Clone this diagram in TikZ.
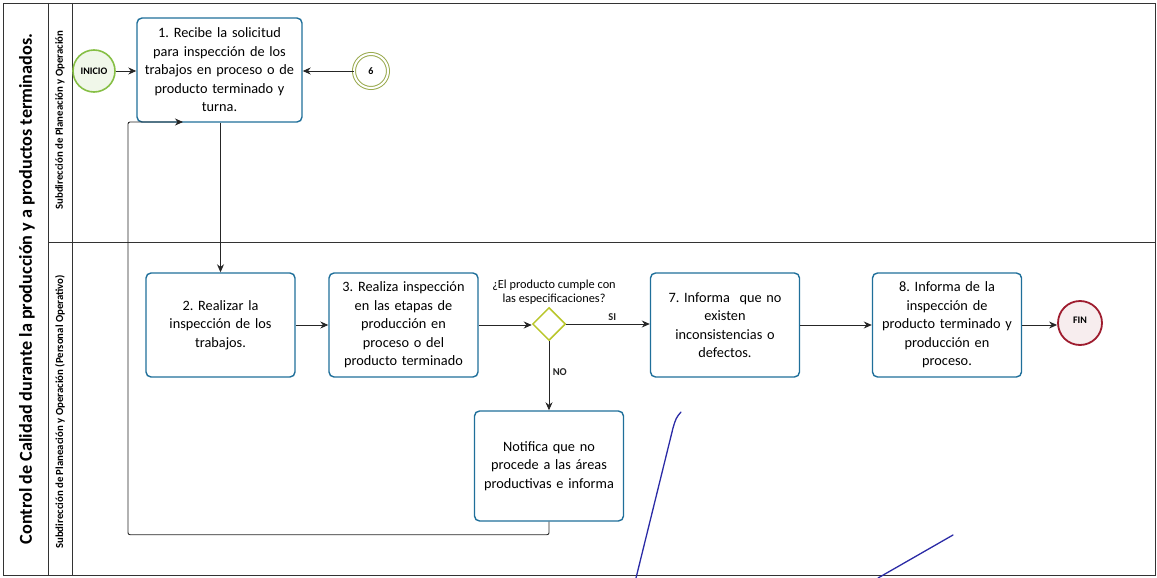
\documentclass[tikz,border=0pt]{standalone}
\usepackage{fontspec}
\setmainfont{Carlito}
\usepackage{xcolor}
\usetikzlibrary{arrows.meta,positioning,shapes.geometric}
\definecolor{taskblue}{HTML}{1F6F9A}
\definecolor{startgreen}{HTML}{86BF45}
\definecolor{midolive}{HTML}{9AAA4F}
\definecolor{endred}{HTML}{9E1C2E}
\definecolor{gwyellow}{HTML}{B9C62A}
\definecolor{penblue}{HTML}{2B2BA6}
\frenchspacing

\begin{document}
\begin{tikzpicture}[x=1pt,y=-1pt,
  task/.style={draw=taskblue,line width=1.4pt,rounded corners=5pt,fill=white,
    minimum width=149pt,minimum height=104pt,text width=145pt,align=center,
    inner sep=2pt,font=\fontsize{14.3}{18.5}\selectfont},
  event/.style={circle,inner sep=0pt,minimum size=42pt,
    font=\bfseries\fontsize{10}{11}\selectfont},
  flow/.style={-{Stealth[length=8pt,width=7pt]},line width=0.9pt,black!85},
  lanetxt/.style={rotate=90,font=\bfseries\fontsize{10.8}{12}\selectfont},
  tag/.style={font=\bfseries\fontsize{10.5}{11}\selectfont}]
  \useasboundingbox (0,0) rectangle (1157,578);
  % pool and lanes
  \draw[line width=0.8pt,black!80] (3,3) rectangle (1155,575);
  \draw[line width=0.8pt,black!80] (48,3) -- (48,575) (72,3) -- (72,575)
    (48,242) -- (1155,242);
  \node[rotate=90,font=\bfseries\fontsize{18.2}{20}\selectfont] (pool) at (27,289)
    {Control de Calidad durante la producción y a productos terminados.};
  \node[lanetxt] (lane1) at (60,120) {Subdirección de Planeación y Operación};
  \node[lanetxt] (lane2) at (60,412)
    {Subdirección de Planeación y Operación (Personal Operativo)};

  % events
  \node[event,draw=startgreen,line width=1.6pt,fill=startgreen!12] (inicio) at (94,71) {INICIO};
  \node[event,draw=midolive,line width=1pt,double=white,double distance=2pt,
    minimum size=34pt,fill=white] (ev6) at (371,71) {6};
  \node[event,draw=endred,line width=1.8pt,fill=endred!8,minimum size=44pt] (fin) at (1080,323)
    {\raisebox{5pt}{FIN}};

  % tasks
  \node[task,minimum width=165pt,text width=160pt] (t1) at (219.5,70)
    {1. Recibe la solicitud\\ para inspección de los\\ trabajos en proceso o de\\
     producto terminado y\\ turna.};
  \node[task] (t2) at (220.5,325) {2. Realizar la\\ inspección de los\\ trabajos.};
  \node[task] (t3) at (403.5,325)
    {3. Realiza inspección\\ en las etapas de\\ producción en\\ proceso o del\\
     producto terminado};
  \node[task] (t7) at (725,325)
    {7. Informa\ \ que no\\ existen\\ inconsistencias o\\ defectos.};
  \node[task] (t8) at (947,325)
    {8. Informa de la\\ inspección de\\ producto terminado y\\ producción en\\ proceso.};
  \node[task,minimum height=110pt] (notif) at (549,466)
    {Notifica que no\\ procede a las áreas\\ productivas e informa};

  % gateway
  \node[diamond,draw=gwyellow,line width=1.5pt,fill=white,inner sep=0pt,
    minimum size=33pt] (gw) at (549,324) {};
  \node[align=center,font=\fontsize{12.3}{14}\selectfont] (gwq) at (554,292)
    {¿El producto cumple con\\ las especificaciones?};

  % flows
  \draw[flow] (inicio) -- (inicio -| t1.west);
  \draw[flow] (ev6) -- (ev6 -| t1.east);
  \draw[flow] (t2.north |- t1.south) -- (t2.north);
  \foreach \a/\b in {t2/t3,t3/gw,t7/t8,t8/fin}{
    \draw[flow] (\a.east) -- (\a.east -| \b.west);}
  \draw[flow] (gw.east) -- node[tag,above,pos=0.55] (si) {SI} (gw.east -| t7.west);
  \draw[flow] (gw.south) -- node[tag,right,pos=0.45] (no) {NO} (notif.north);
  \coordinate (loopin) at (183,122);
  \draw[flow,rounded corners=2pt] (notif.south) -- ++(0,13) -| (128,122) -- (loopin);

  % pen marks on the scan
  \draw[penblue,line width=1.3pt,line cap=round] (681,412) .. controls (676,418) .. (673,428)
    -- (636,578);
  \draw[penblue,line width=1.3pt,line cap=round] (953,535) -- (878,578);
\end{tikzpicture}
\end{document}
